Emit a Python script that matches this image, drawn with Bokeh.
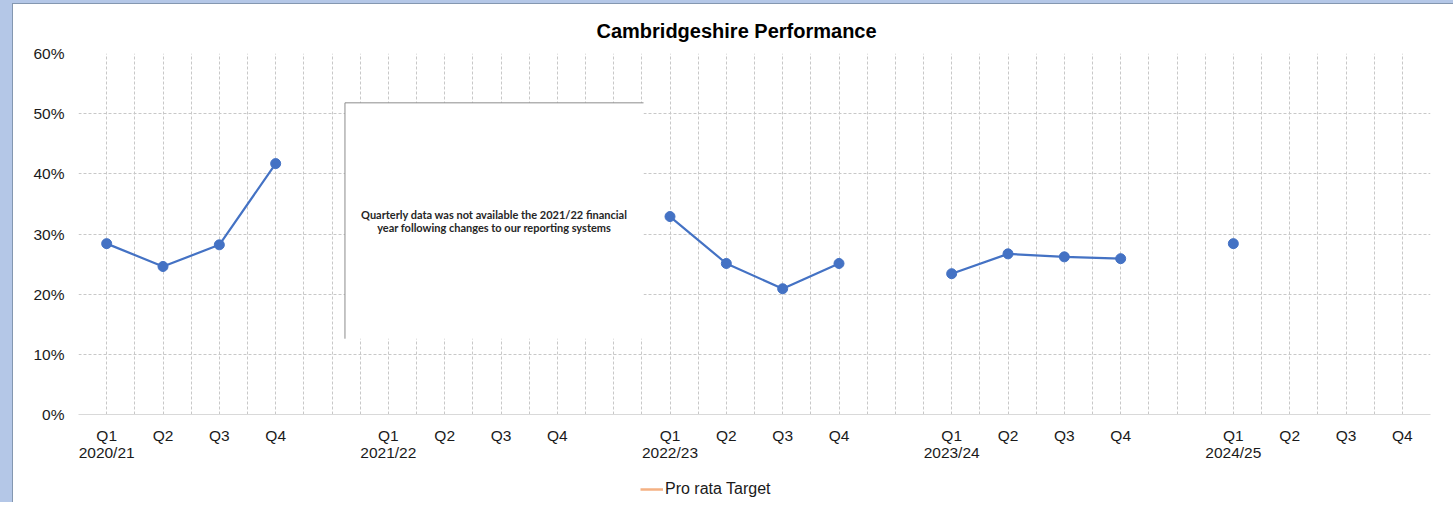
import math
from bokeh.plotting import figure
from bokeh.layouts import column
from bokeh.models import (FixedTicker, Range1d, NumeralTickFormatter, Legend,
                          LegendItem, ColumnDataSource, Title)
from bokeh.core.properties import value
from bokeh.embed import file_html
from bokeh.resources import INLINE

# ---- data ----
title_text = "Cambridgeshire Performance"
years = ["2020/21", "2021/22", "2022/23", "2023/24", "2024/25"]
quarters = ["Q1", "Q2", "Q3", "Q4"]
perf_2020_21 = [0.284, 0.246, 0.282, 0.417]
perf_2021_22 = [None, None, None, None]
perf_2022_23 = [0.329, 0.251, 0.209, 0.251]
perf_2023_24 = [0.234, 0.267, 0.262, 0.259]
perf_2024_25 = [0.284, None, None, None]
pro_rata_target = [None]  # no visible values in the chart
y_ticks = [0.0, 0.1, 0.2, 0.3, 0.4, 0.5, 0.6]
note_text = ("Quarterly data was not available the 2021/22 financial\n"
             "year following changes to our reporting systems")
legend_label = "Pro rata Target"

all_perf = [perf_2020_21, perf_2021_22, perf_2022_23, perf_2023_24, perf_2024_25]

# category slots: 4 quarters per year, one blank slot between years
SLOTS_PER_YEAR = 5
n_slots = SLOTS_PER_YEAR * (len(years) - 1) + len(quarters)

xs, ys = [], []
for g, vals in enumerate(all_perf):
    for q, v in enumerate(vals):
        xs.append(g * SLOTS_PER_YEAR + q)
        ys.append(float("nan") if v is None else v)
    xs.append(g * SLOTS_PER_YEAR + len(quarters))
    ys.append(float("nan"))

pts_x = [x for x, y in zip(xs, ys) if not math.isnan(y)]
pts_y = [y for y in ys if not math.isnan(y)]

tick_pos, overrides = [], {}
for g, yr in enumerate(years):
    for q, qn in enumerate(quarters):
        pos = g * SLOTS_PER_YEAR + q
        tick_pos.append(pos)
        overrides[pos] = qn + ("\n" + yr if q == 0 else "")

FONT = "Liberation Sans"
TXT = "#1a1a1a"
W = 1440

xr = Range1d(-0.5, n_slots - 0.5)
yr_ = Range1d(0, 0.6)

p = figure(width=W, height=470, output_backend="svg", toolbar_location=None,
           x_range=xr, y_range=yr_,
           min_border_left=65, min_border_right=23, min_border_top=49,
           min_border_bottom=60, title=None)
p.outline_line_color = None
p.background_fill_color = "white"
p.border_fill_color = "white"

t = Title(text=title_text, align="left", text_font=FONT, text_font_size="20px",
          text_font_style="bold", text_color="black", offset=518, standoff=23)
p.add_layout(t, "above")

# axes
p.xaxis.ticker = FixedTicker(ticks=tick_pos)
p.xaxis.major_label_overrides = overrides
p.xaxis.major_tick_line_color = None
p.xaxis.minor_tick_line_color = None
p.xaxis.axis_line_color = "#d9d9d9"
p.xaxis.major_label_text_font = FONT
p.xaxis.major_label_text_font_size = "15.5px"
p.xaxis.major_label_text_line_height = 1.05
p.xaxis.major_label_text_color = TXT
p.xaxis.major_label_standoff = 6

p.yaxis.ticker = FixedTicker(ticks=y_ticks)
p.yaxis.formatter = NumeralTickFormatter(format="0%")
p.yaxis.major_tick_line_color = None
p.yaxis.minor_tick_line_color = None
p.yaxis.axis_line_color = None
p.yaxis.major_label_text_font = FONT
p.yaxis.major_label_text_font_size = "15.5px"
p.yaxis.major_label_text_color = TXT
p.yaxis.major_label_standoff = 8

# grids
grid_x = [i * 0.5 - 0.5 for i in range(2 * n_slots + 1)]
p.xgrid.ticker = FixedTicker(ticks=grid_x)
p.ygrid.ticker = FixedTicker(ticks=y_ticks)
for gr in (p.xgrid, p.ygrid):
    gr.grid_line_color = "#c8c8c8"
    gr.grid_line_dash = "3 2"
    gr.grid_line_width = 1

# note box (annotation position in slot units)
box_l, box_r, box_b, box_t = 4.23, 9.53, 0.126, 0.518
p.quad(left=[box_l], right=[box_r], bottom=[box_b], top=[box_t],
       fill_color="white", line_color=None)
p.segment(x0=[box_l, box_l], y0=[box_b, box_t], x1=[box_l, box_r], y1=[box_t, box_t],
          line_color="#8c8c8c", line_width=1)
p.text(x=[(box_l + box_r) / 2], y=[0.3216], text=[note_text],
       text_font=value("Lato"), text_font_size="11px", text_font_style="bold",
       text_color="#262626", text_align="center", text_baseline="middle",
       text_line_height=1.05)

# performance series
src = ColumnDataSource(dict(x=xs, y=ys))
p.line("x", "y", source=src, line_color="#4472c4", line_width=2.2)
p.scatter(pts_x, pts_y, size=10, fill_color="#4472c4", line_color="#4472c4")

# legend strip (shares the chart's ranges; pro rata target has no visible data)
lf = figure(width=W, height=28, output_backend="svg", toolbar_location=None,
            x_range=xr, y_range=yr_, min_border=0, title=None,
            x_axis_location=None, y_axis_location=None)
lf.grid.visible = False
lf.outline_line_color = None
lf.background_fill_color = "white"
lf.border_fill_color = "white"
tgt_y = [float("nan") if v is None else v for v in pro_rata_target]
tgt = lf.line(x=list(range(len(tgt_y))), y=tgt_y,
              line_color="#f4b183", line_width=2.5)
legend = Legend(items=[LegendItem(label=legend_label, renderers=[tgt])],
                location=(562, 3), orientation="horizontal",
                border_line_color=None, background_fill_alpha=0,
                padding=0, margin=0, label_standoff=2, glyph_width=23,
                glyph_height=20, label_text_font=FONT, label_text_font_size="16px",
                label_text_color=TXT)
lf.add_layout(legend, "center")

inner = column(p, lf, spacing=0,
               styles={"border-left": "1px solid #8497b0",
                       "border-top": "1px solid #8497b0"})
layout = column(inner, spacing=0,
                styles={"border-left": "12px solid #b4c7e7",
                        "border-top": "3px solid #b4c7e7"})
open("out.html", "w").write(file_html(layout, INLINE))
